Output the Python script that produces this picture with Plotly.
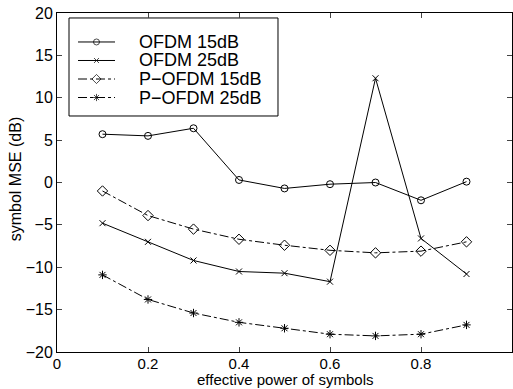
import plotly.graph_objects as go

x_vals = [0.1, 0.2, 0.3, 0.4, 0.5, 0.6, 0.7, 0.8, 0.9]
ofdm_15 = [5.7, 5.5, 6.4, 0.3, -0.7, -0.2, 0.0, -2.1, 0.1]
ofdm_25 = [-4.8, -7.0, -9.2, -10.5, -10.7, -11.7, 12.3, -6.6, -10.8]
pofdm_15 = [-1.0, -3.9, -5.5, -6.7, -7.4, -8.0, -8.3, -8.1, -7.0]
pofdm_25 = [-10.9, -13.8, -15.4, -16.5, -17.2, -17.9, -18.1, -17.9, -16.8]

names = ["OFDM 15dB", "OFDM 25dB", "P\u2212OFDM 15dB", "P\u2212OFDM 25dB"]
x_ticks = [0, 0.2, 0.4, 0.6, 0.8, 1]
x_tick_text = ["0", "0.2", "0.4", "0.6", "0.8", "1"]
y_ticks = [-20, -15, -10, -5, 0, 5, 10, 15, 20]
y_tick_text = ["\u221220", "\u221215", "\u221210", "\u22125", "0", "5", "10", "15", "20"]
x_title = "effective power of symbols"
y_title = "symbol MSE (dB)"

series = [
    (ofdm_15, "circle-open", "solid", 7, 6),
    (ofdm_25, "x-thin-open", "solid", 6, 5),
    (pofdm_15, "diamond-open", "dashdot", 8, 7),
    (pofdm_25, "asterisk-open", "dashdot", 7, 6),
]

# legend layout (paper coordinates of the plot area)
LEG_X0, LEG_X1 = 0.0264, 0.4857
LEG_Y0, LEG_Y1 = 0.6962, 0.9853
LEG_ROWS = [0.9145, 0.8599, 0.8053, 0.7507]
SAMPLE_X = [0.0462, 0.0868, 0.1275]
TEXT_X = 0.176

font_family = "Liberation Sans, Arial, sans-serif"

fig = go.Figure()
for (vals, sym, dash, sz, lsz), nm in zip(series, names):
    fig.add_trace(go.Scatter(
        x=x_vals, y=vals, name=nm, mode="lines+markers", showlegend=False,
        line=dict(color="black", width=1, dash=dash),
        marker=dict(symbol=sym, size=sz, color="black",
                    line=dict(color="black", width=1)),
    ))

annotations = []
for (vals, sym, dash, sz, lsz), nm, ry in zip(series, names, LEG_ROWS):
    fig.add_trace(go.Scatter(
        x=SAMPLE_X, y=[ry] * 3, xaxis="x2", yaxis="y2",
        mode="lines+markers", showlegend=False, hoverinfo="skip",
        line=dict(color="black", width=1, dash=dash),
        marker=dict(symbol=sym, size=[0, lsz, 0], color="black",
                    line=dict(color="black", width=1)),
    ))
    annotations.append(dict(
        text=nm, xref="paper", yref="paper", x=TEXT_X, y=ry,
        xanchor="left", yanchor="middle", showarrow=False,
        font=dict(size=18, family=font_family)))

annotations += [
    dict(text=x_title, xref="paper", yref="paper", x=0.5, y=-0.082,
         xanchor="center", yanchor="middle", showarrow=False,
         font=dict(size=15)),
    dict(text=y_title, xref="paper", yref="paper", x=-0.092, y=0.51,
         xanchor="center", yanchor="middle", showarrow=False,
         textangle=-90, font=dict(size=16)),
]

fig.update_layout(
    width=513, height=389,
    margin=dict(l=57, r=1, t=13, b=37),
    paper_bgcolor="white", plot_bgcolor="white",
    font=dict(family=font_family, size=14, color="black"),
    showlegend=False,
    xaxis=dict(
        range=[0, 1], tickvals=x_ticks, ticktext=x_tick_text,
        ticks="inside", ticklen=5, mirror="ticks", showline=True,
        linecolor="black", linewidth=1, showgrid=False, zeroline=False,
        tickfont=dict(size=15), ticklabelstandoff=-2,
    ),
    yaxis=dict(
        range=[-20, 20], tickvals=y_ticks, ticktext=y_tick_text,
        ticks="inside", ticklen=5, mirror="ticks", showline=True,
        linecolor="black", linewidth=1, showgrid=False, zeroline=False,
        tickfont=dict(size=16),
    ),
    xaxis2=dict(range=[0, 1], overlaying="x", visible=False, fixedrange=True),
    yaxis2=dict(range=[0, 1], overlaying="y", visible=False, fixedrange=True),
    shapes=[dict(type="rect", xref="paper", yref="paper",
                 x0=LEG_X0, x1=LEG_X1, y0=LEG_Y0, y1=LEG_Y1,
                 line=dict(color="black", width=1), fillcolor="white",
                 layer="below")],
    annotations=annotations,
)

fig.write_html("out.html", config={"displayModeBar": False},
               post_script="document.body.style.margin='0px';")
